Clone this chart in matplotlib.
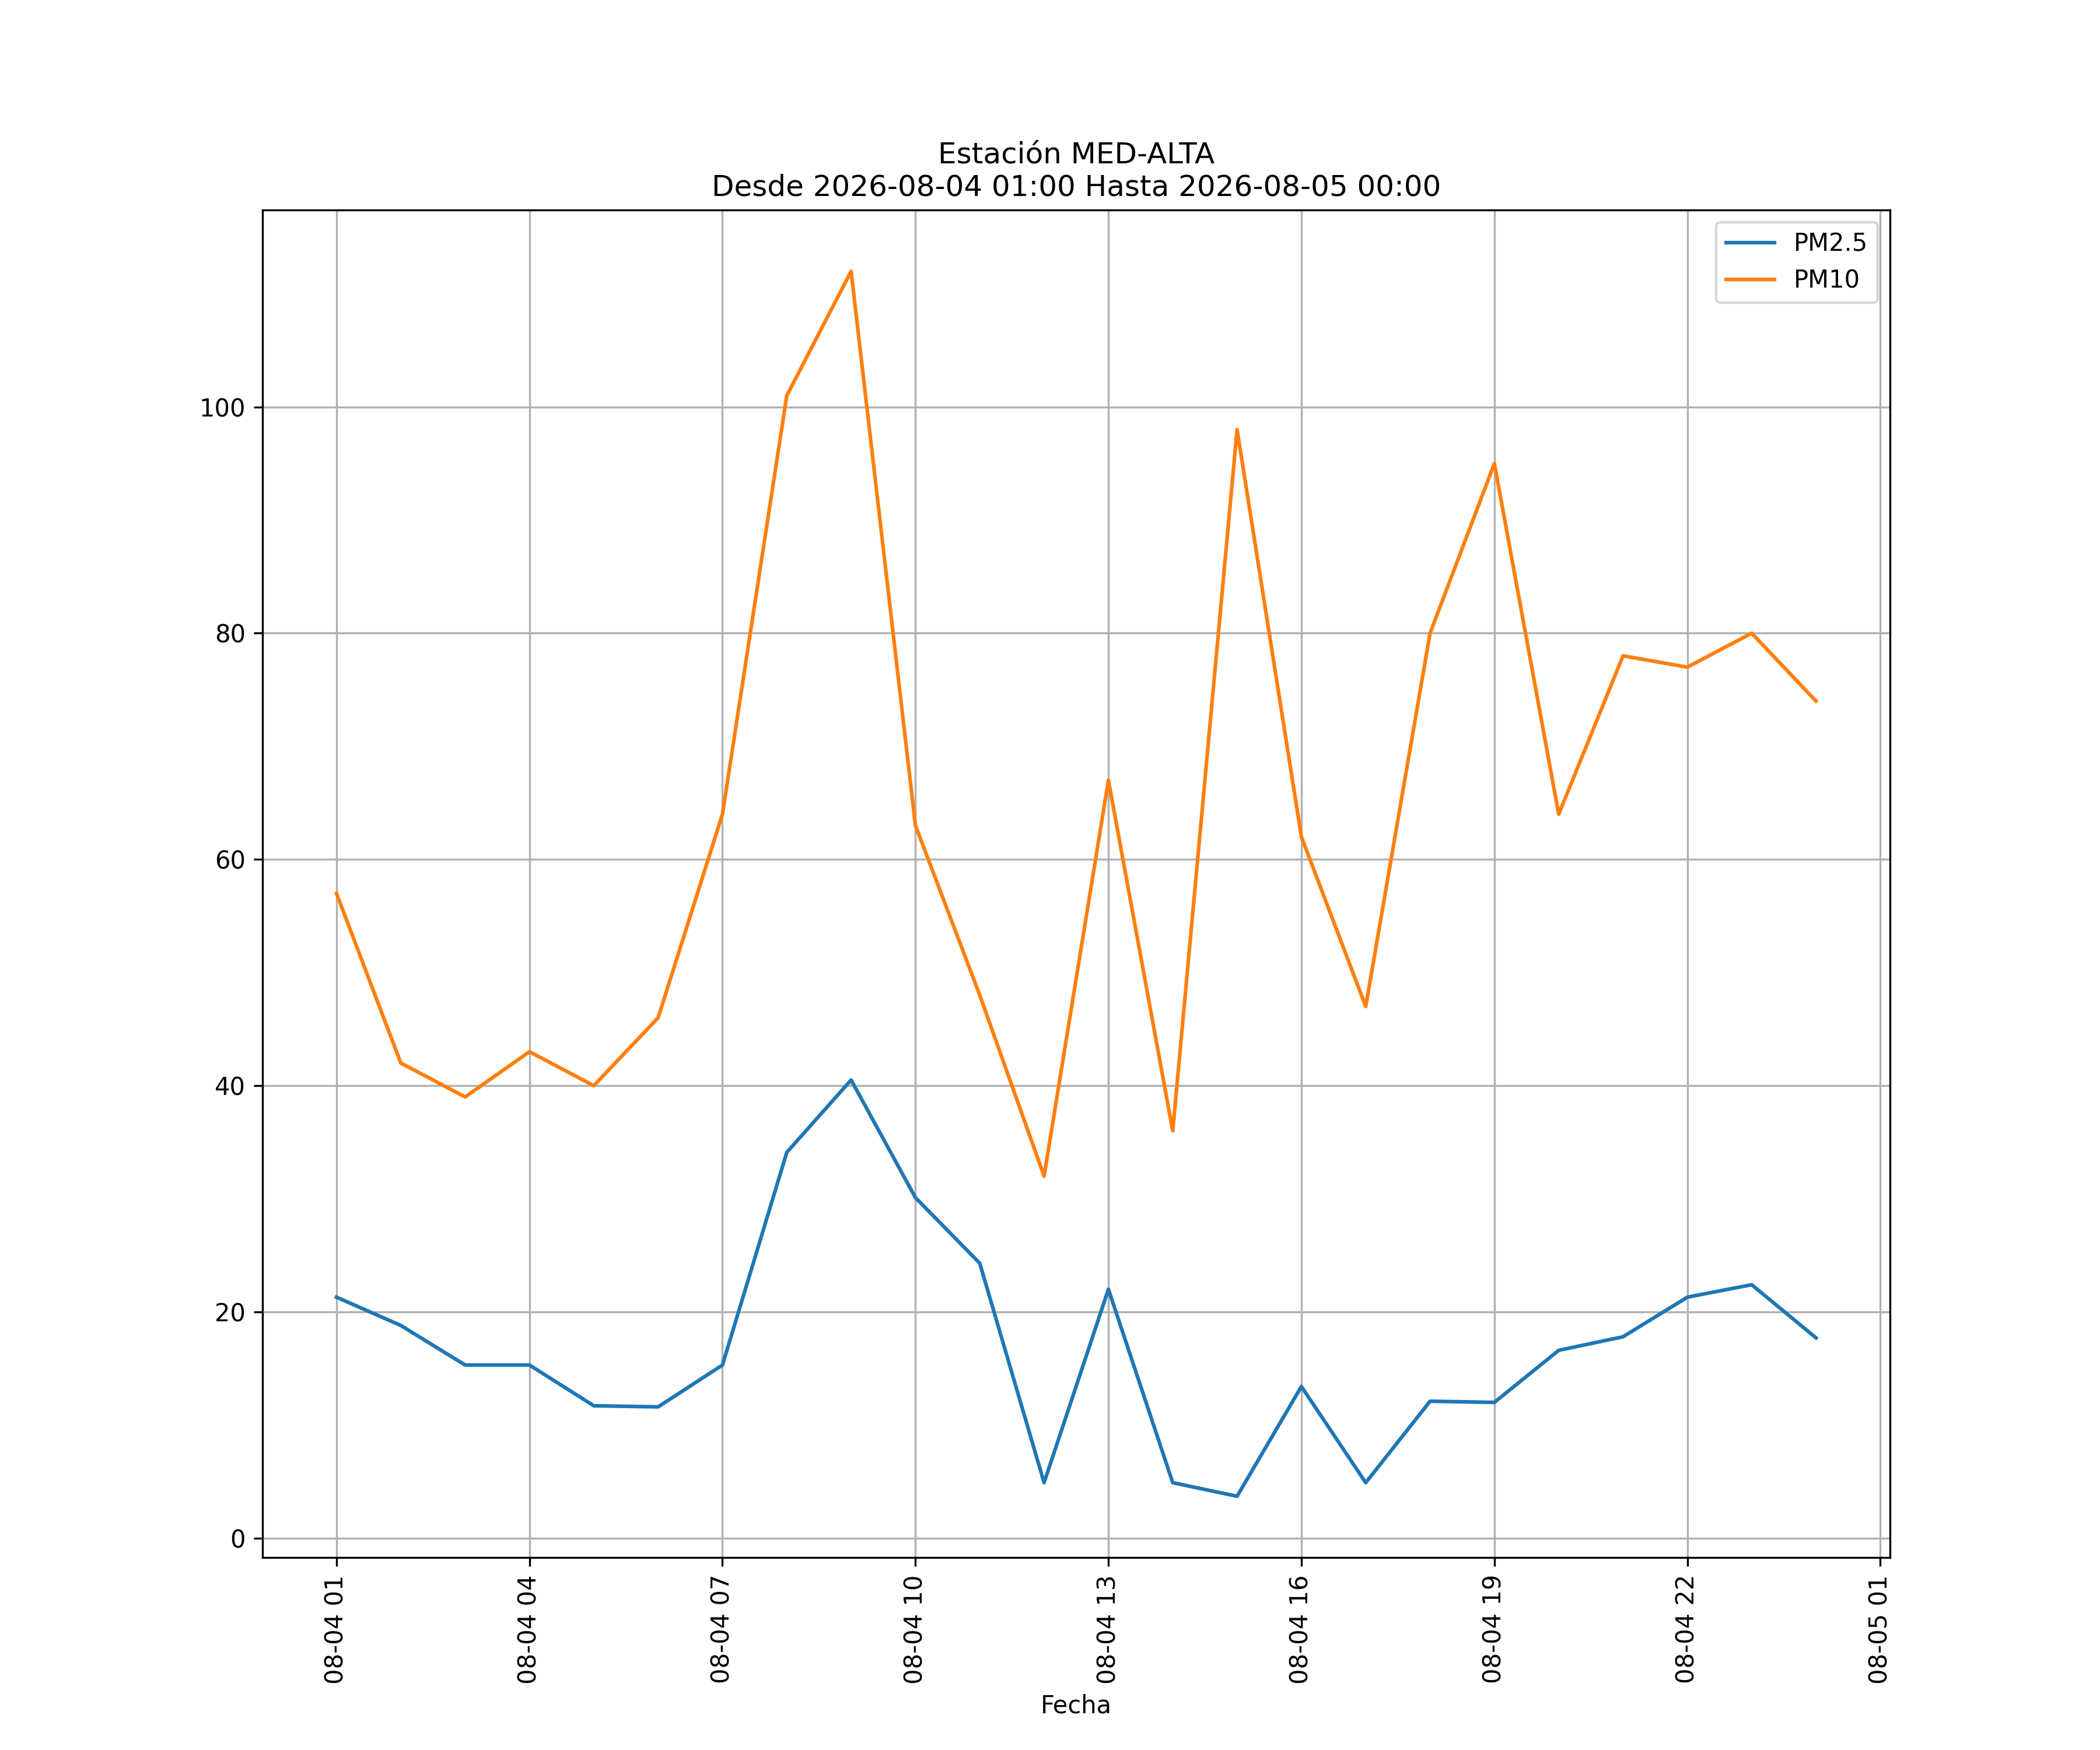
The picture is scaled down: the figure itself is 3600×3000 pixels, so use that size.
import matplotlib as mpl
mpl.use("Agg")
import matplotlib.pyplot as plt
import matplotlib.dates as mdates
import pandas as pd

estacion = "MED-ALTA"
fechas = pd.date_range("2026-08-04 01:00", "2026-08-05 00:00", freq="h")

pm25 = [21.3, 18.8, 15.3, 15.3, 11.7, 11.6, 15.3, 34.1, 40.5, 30.1, 24.3, 4.9,
        22.0, 4.9, 3.7, 13.4, 4.9, 12.1, 12.0, 16.6, 17.8, 21.3, 22.4, 17.7]
pm10 = [57, 42, 39, 43, 40, 46, 64, 101, 112, 63, 48, 32,
        67, 36, 98, 62, 47, 80, 95, 64, 78, 77, 80, 74]

fig, ax = plt.subplots(figsize=(12, 10))
ax.plot(fechas, pm25, label="PM2.5")
ax.plot(fechas, pm10, label="PM10")

ax.xaxis.set_major_locator(mdates.HourLocator(byhour=range(1, 24, 3)))
ax.xaxis.set_major_formatter(mdates.DateFormatter("%m-%d %H"))
plt.xticks(rotation=90)
ax.set_xlabel("Fecha")
ax.set_title("Estación " + estacion + "\nDesde " + fechas[0].strftime("%Y-%m-%d %H:%M")
             + " Hasta " + fechas[-1].strftime("%Y-%m-%d %H:%M"))
ax.grid(True)
ax.legend()

plt.savefig("out.png", dpi=300)
